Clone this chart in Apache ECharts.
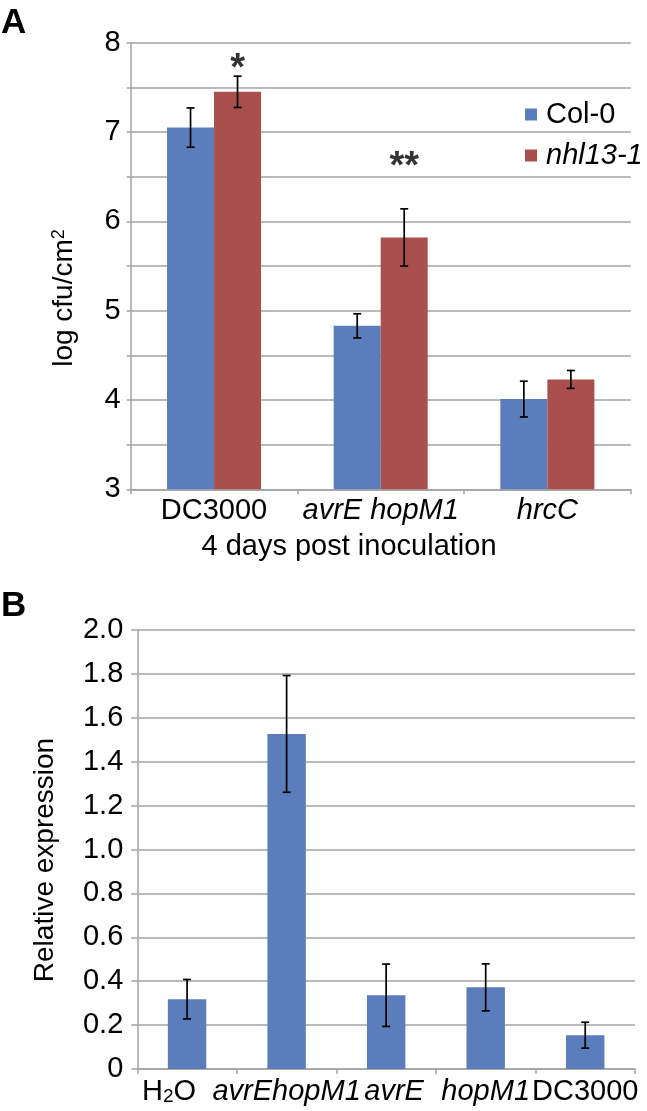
<!DOCTYPE html>
<html>
<head>
<meta charset="utf-8">
<script src="https://cdn.jsdelivr.net/npm/echarts@6/dist/echarts.min.js"></script>
<style>
html,body{margin:0;padding:0;background:#fff;}
#chart{width:647px;height:1111px;}
</style>
</head>
<body>
<div id="chart"></div>
<script>
// ---------- Panel A data ----------
const catsA = ['DC3000', 'avrE hopM1', 'hrcC'];
const italicA = [false, true, true];
const col0 = [7.05, 4.83, 4.01];
const col0Err = [0.22, 0.135, 0.20];
const nhl = [7.45, 5.82, 4.23];
const nhlErr = [0.175, 0.32, 0.10];
const sigLabels = ['*', '**', ''];
const sigY = [7.70, 6.60, null];
const seriesNamesA = ['Col-0', 'nhl13-1'];

// ---------- Panel B data ----------
const catsB = ['H2O', 'avrEhopM1', 'avrE', 'hopM1', 'DC3000'];
const relExpr = [0.318, 1.527, 0.336, 0.372, 0.154];
const relErr = [0.09, 0.266, 0.142, 0.107, 0.059];

const FONT = 'Liberation Sans, Arial, Helvetica, sans-serif';
const BLUE = '#5b7dbc';
const RED = '#a94f4e';
const GRID = '#a3a3a3';

const chart = echarts.init(document.getElementById('chart'), null, {renderer: 'canvas'});

function errSeries(xi, yi, vals, errs, offsetFrac) {
  return {
    type: 'custom',
    xAxisIndex: xi, yAxisIndex: yi,
    z: 10,
    silent: true,
    renderItem: function (params, api) {
      const i = api.value(0), v = api.value(1), e = api.value(2);
      const band = api.size([1, 0])[0];
      const hi = api.coord([i, v + e]);
      const lo = api.coord([i, v - e]);
      const x = hi[0] + band * offsetFrac;
      const st = {stroke: '#000', lineWidth: 1.7};
      const cw = 4;
      return {
        type: 'group',
        children: [
          {type: 'line', shape: {x1: x, y1: hi[1], x2: x, y2: lo[1]}, style: st},
          {type: 'line', shape: {x1: x - cw, y1: hi[1], x2: x + cw, y2: hi[1]}, style: st},
          {type: 'line', shape: {x1: x - cw, y1: lo[1], x2: x + cw, y2: lo[1]}, style: st}
        ]
      };
    },
    data: vals.map((v, i) => [i, v, errs[i]])
  };
}

const labelBase = {fontSize: 29, fontFamily: FONT, color: '#000'};

const option = {
  animation: false,
  backgroundColor: '#fff',
  textStyle: {fontFamily: FONT},
  title: [
    {text: 'A', left: 1, top: 6, padding: 0, textStyle: {fontSize: 35, fontWeight: 'bold', fontFamily: FONT, color: '#000'}},
    {text: 'B', left: 1, top: 589, padding: 0, textStyle: {fontSize: 35, fontWeight: 'bold', fontFamily: FONT, color: '#000'}}
  ],
  legend: {
    orient: 'vertical',
    left: 525, top: 100, padding: 0,
    itemWidth: 12, itemHeight: 12, itemGap: 12,
    icon: 'rect',
    textStyle: {fontSize: 29, fontFamily: FONT, color: '#000', padding: [0, 0, 0, 4]},
    data: [
      {name: seriesNamesA[0]},
      {name: seriesNamesA[1], textStyle: {fontStyle: 'italic'}}
    ]
  },
  graphic: [
    {type: 'text', x: 349, y: 547,
     style: {text: '4 days post inoculation', fontSize: 29, fontFamily: FONT, fill: '#000', align: 'center', verticalAlign: 'middle'}},
    {type: 'text', x: 64, y: 298, rotation: Math.PI / 2,
     style: {text: 'log cfu/cm{sup|2}', fontSize: 28, fontFamily: FONT, fill: '#000', align: 'center', verticalAlign: 'middle',
             rich: {sup: {fontSize: 18, fontFamily: FONT, fill: '#000', verticalAlign: 'top'}}}},
    {type: 'text', x: 45, y: 860, rotation: Math.PI / 2,
     style: {text: 'Relative expression', fontSize: 28, fontFamily: FONT, fill: '#000', align: 'center', verticalAlign: 'middle'}}
  ],
  grid: [
    {left: 130.7, right: 16.3, top: 42.7, bottom: 621.7},
    {left: 137.3, right: 12, top: 630.1, bottom: 42}
  ],
  xAxis: [
    {
      type: 'category', gridIndex: 0, data: catsA,
      axisLine: {lineStyle: {color: GRID, width: 1.5}},
      axisTick: {show: true, length: 5, lineStyle: {color: GRID, width: 1.5}},
      axisLabel: {
        margin: 7, ...labelBase, interval: 0, hideOverlap: false,
        formatter: function (v, i) { return italicA[i] ? '{i|' + v + '}' : '{n|' + v + '}'; },
        rich: {i: {...labelBase, fontStyle: 'italic'}, n: {...labelBase}}
      }
    },
    {
      type: 'category', gridIndex: 1, data: catsB,
      axisLine: {lineStyle: {color: GRID, width: 1.5}},
      axisTick: {show: true, length: 5, lineStyle: {color: GRID, width: 1.5}},
      axisLabel: {
        margin: 8, ...labelBase, interval: 0, hideOverlap: false,
        formatter: function (v) {
          if (v === 'H2O') return '{n|H}{sub|2}{h2o|O}';
          if (v === 'DC3000') return '{n|' + v + '}';
          if (v === 'avrE') return '{ie|' + v + '}';
          return '{i|' + v + '}';
        },
        rich: {
          i: {...labelBase, fontStyle: 'italic'},
          ie: {...labelBase, fontStyle: 'italic', padding: [0, 0, 0, 16]},
          n: {...labelBase},
          sub: {...labelBase, fontSize: 19, verticalAlign: 'bottom'},
          h2o: {...labelBase, padding: [0, 36, 0, 0]}
        }
      }
    }
  ],
  yAxis: [
    {
      type: 'value', gridIndex: 0, min: 3, max: 8, interval: 0.5,
      axisLine: {show: true, lineStyle: {color: GRID, width: 1.5}},
      axisTick: {show: true, length: 4, lineStyle: {color: GRID, width: 1.5}},
      splitLine: {lineStyle: {color: GRID, width: 1.5}},
      axisLabel: {margin: 10, ...labelBase, formatter: function (v) { return (Math.abs(v - Math.round(v)) < 1e-6) ? String(Math.round(v)) : ''; }}
    },
    {
      type: 'value', gridIndex: 1, min: 0, max: 2, interval: 0.2,
      axisLine: {show: true, lineStyle: {color: GRID, width: 1.5}},
      axisTick: {show: true, length: 6, lineStyle: {color: GRID, width: 1.5}},
      splitLine: {lineStyle: {color: GRID, width: 1.5}},
      axisLabel: {margin: 14, ...labelBase, formatter: function (v) { return v === 0 ? '0' : v.toFixed(1); }}
    }
  ],
  series: [
    {name: seriesNamesA[0], type: 'bar', xAxisIndex: 0, yAxisIndex: 0, data: col0,
     itemStyle: {color: BLUE}, barGap: '0%', barCategoryGap: '43.6%'},
    {name: seriesNamesA[1], type: 'bar', xAxisIndex: 0, yAxisIndex: 0, data: nhl,
     itemStyle: {color: RED}, barGap: '0%', barCategoryGap: '43.6%'},
    errSeries(0, 0, col0, col0Err, -0.141),
    errSeries(0, 0, nhl, nhlErr, 0.141),
    {
      type: 'scatter', xAxisIndex: 0, yAxisIndex: 0, symbolSize: 0, silent: true,
      data: sigY.map((y, i) => [i, y]).filter(d => d[1] !== null),
      label: {
        show: true, position: 'inside', fontSize: 38, fontWeight: 'bold', fontFamily: FONT, color: '#000',
        offset: [0, 0],
        formatter: function (p) { return sigLabels[p.dataIndex]; }
      },
      z: 11
    },
    {name: 'Relative expression', type: 'bar', xAxisIndex: 1, yAxisIndex: 1, data: relExpr,
     itemStyle: {color: BLUE}, barCategoryGap: '61.4%'},
    errSeries(1, 1, relExpr, relErr, 0)
  ]
};

chart.setOption(option);

// shift the significance markers over the red (nhl13-1) bars using the axis band width
const band = chart.convertToPixel({xAxisIndex: 0}, 1) - chart.convertToPixel({xAxisIndex: 0}, 0);
option.series[4].label.offset = [band * 0.141, 0];
chart.setOption({series: option.series});
</script>
</body>
</html>
